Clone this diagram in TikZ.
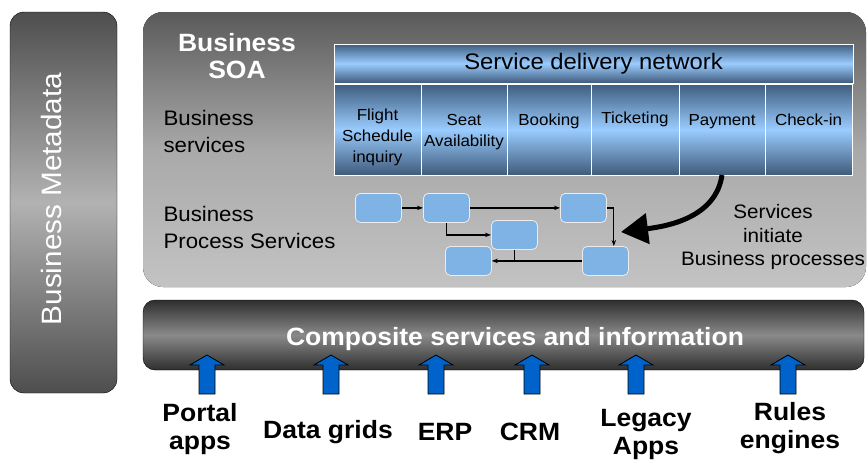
\documentclass[tikz,border=0pt]{standalone}
\usepackage{fontspec}
\setmainfont{Liberation Sans}[FakeStretch=1.06]
\usetikzlibrary{arrows.meta,positioning}
\definecolor{metatop}{HTML}{4E4E4E}
\definecolor{metamid}{HTML}{B2B2B2}
\definecolor{soatop}{HTML}{5A5A5A}
\definecolor{soamid}{HTML}{A9A9A9}
\definecolor{soabot}{HTML}{C3C3C3}
\definecolor{bartop}{HTML}{2E2E2E}
\definecolor{barmid}{HTML}{8A8A8A}
\definecolor{svctop}{HTML}{3E5D7E}
\definecolor{svcmid}{HTML}{9ACCFF}
\definecolor{svcbot}{HTML}{3F5B7A}
\definecolor{procblue}{HTML}{7FB2E5}
\definecolor{arrblue}{HTML}{0063CC}
\newcommand{\fs}[2]{\fontsize{#1}{#2}\selectfont}
\tikzset{
  svc/.style={draw=white, line width=0.8pt, outer sep=0pt, inner sep=0pt,
    top color=svctop, bottom color=svcbot, middle color=svcmid,
    minimum height=91pt, anchor=north west},
  svctext/.style={anchor=north, inner sep=0pt, yshift=-30pt, align=center, font=\fs{16}{21}},
  proc/.style={draw=white!85!gray, fill=procblue, rounded corners=5pt,
    minimum width=46pt, minimum height=29pt, line width=0.8pt, anchor=north west},
  flow/.style={-{Stealth[length=6pt,width=4.5pt]}, line width=1.2pt},
  push/.style={-{Triangle[length=27pt,width=30pt]}, line width=5pt},
  blockarrow/.style={draw=black, fill=arrblue, line width=0.8pt},
  src/.style={font=\bfseries\fs{25}{28}, align=center}
}
\begin{document}
\begin{tikzpicture}[x=1pt,y=-1pt]
\useasboundingbox (0,0) rectangle (868,464);
% metadata column
\draw[rounded corners=14pt, top color=metatop, bottom color=metatop, middle color=metamid, draw=black] (10,12) rectangle (117,393);
\node[rotate=90, text=white, font=\fs{28}{34}] (meta) at (51,199) {Business Metadata};
% business SOA panel
\fill[rounded corners=20pt, top color=soatop, bottom color=soabot, middle color=soamid] (143,12) rectangle (866,287);
\node[text=white, font=\bfseries\fs{25}{27}, align=center] (soa) at (237,56) {Business\\SOA};
\node[anchor=west, font=\fs{21}{27}, align=left] (bsvc) at (160,131) {Business\\services};
\node[anchor=west, font=\fs{21}{27}, align=left] (bproc) at (160,227) {Business\\Process Services};
% service delivery network
\node[svc, minimum width=519pt, minimum height=39pt, font=\fs{22.5}{27}] (sdn) at (334,44) {Service delivery network};
\node[svc, minimum width=87pt, label={[svctext, yshift=5pt]north:Flight\\Schedule\\inquiry}] (flight) at (334,84) {};
\node[svc, minimum width=86pt, right=0pt of flight, label={[svctext]north:Seat\\Availability}] (seat) {};
\node[svc, minimum width=84pt, right=0pt of seat, label={[svctext]north:Booking}] (booking) {};
\node[svc, minimum width=88pt, right=0pt of booking, label={[svctext, yshift=2pt]north:Ticketing}] (ticketing) {};
\node[svc, minimum width=86pt, right=0pt of ticketing, label={[svctext]north:Payment}] (payment) {};
\node[svc, minimum width=87pt, right=0pt of payment, label={[svctext]north:Check-in}] (checkin) {};
% process flow
\node[proc] (p1) at (355,193) {};
\node[proc] (p2) at (423,193) {};
\node[proc] (p3) at (560,193) {};
\node[proc] (p4) at (491,220) {};
\node[proc] (p5) at (445,246) {};
\node[proc] (p6) at (582,246) {};
\draw[flow] (p1) -- (p2);
\draw[flow] (p2) -- (p3);
\draw[flow] (p2.south) |- (p4.west);
\draw[flow] (p3.east) -- ++(7,0) coordinate (turn) -- (turn |- p6.north);
\draw[flow] (p6) -- (p5);
\draw[line width=1.2pt] (p4.south) -- (p4.south |- p6.west);
\coordinate (tip) at (621,232);
\draw[push] (payment.south) .. controls +(-6,42) and +(48,-6) .. (tip);
\node[font=\fs{19.5}{23.5}, align=center] (init) at (773,237) {Services\\initiate\\Business processes};
% composite layer
\draw[rounded corners=12pt, top color=bartop, bottom color=bartop, middle color=barmid, draw=black] (143,300) rectangle (864,370);
\node[text=white, font=\bfseries\fs{25}{30}] (comp) at (515,339) {Composite services and information};
\foreach \x in {207,331,436,532,636,788}
  \filldraw[blockarrow] (\x,355) -- ++(17,10) -- ++(-9,0) -- ++(0,29) -- ++(-16,0) -- ++(0,-29) -- ++(-9,0) -- cycle;
\node[src] (portal) at (200,429) {Portal\\apps};
\node[src] (grids) at (328,432) {Data grids};
\node[src] (erp) at (445,432) {ERP};
\node[src] (crm) at (530,432) {CRM};
\node[src] (legacy) at (646,434) {Legacy\\Apps};
\node[src] (rules) at (790,428) {Rules\\engines};
\end{tikzpicture}
\end{document}
